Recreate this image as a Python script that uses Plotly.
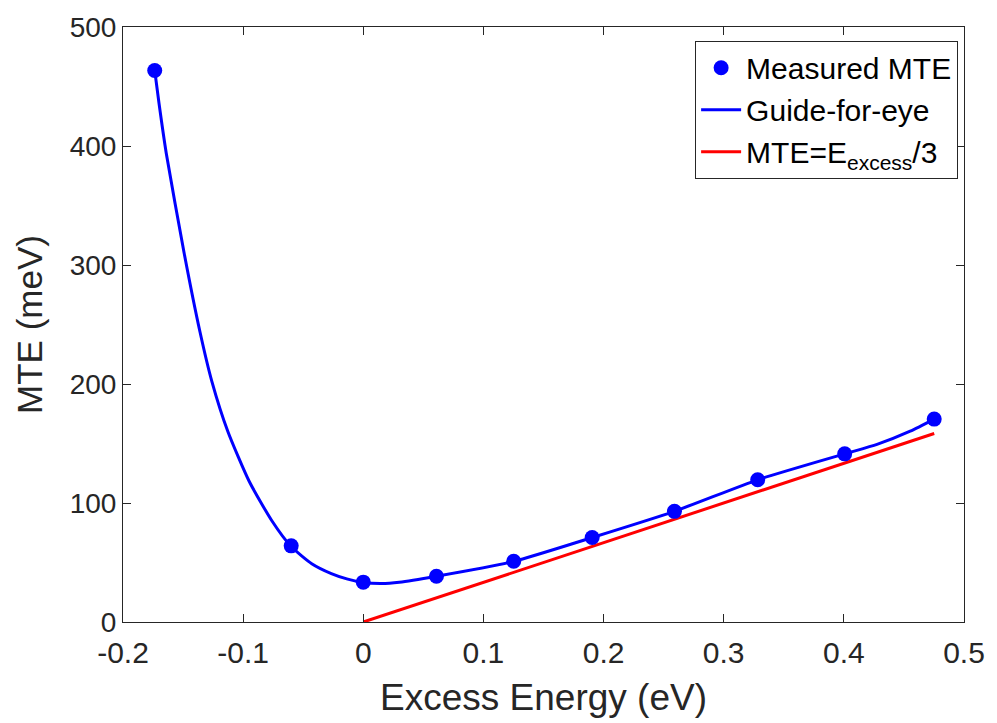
import plotly.graph_objects as go

# Measured MTE points
meas_x = [-0.1736, -0.0600, 0.0000, 0.0609, 0.1252, 0.1905, 0.2590, 0.3283, 0.4007, 0.4752]
meas_y = [463.5, 64.0, 33.5, 38.5, 51.0, 71.0, 93.0, 119.5, 141.3, 170.5]

# Guide-for-eye curve
guide_x = [-0.1736, -0.1700, -0.1640, -0.1492, -0.1359, -0.1260, -0.1128, -0.0951, -0.0761,
           -0.0600, -0.0429, -0.0266, -0.0130, 0.0000, 0.0150, 0.0300, 0.0609, 0.1252, 0.1905,
           0.2590, 0.3283, 0.4007, 0.4276, 0.4552, 0.4752]
guide_y = [463.5, 435.7, 394.0, 310.5, 243.7, 202.0, 160.3, 118.5, 85.1,
           63.4, 49.0, 40.7, 36.0, 33.2, 32.3, 33.4, 38.5, 51.0, 71.0,
           93.0, 119.5, 141.3, 149.2, 160.3, 170.5]

# MTE = E_excess/3 line (endpoints, meV)
theory_x = [0.0, 0.4752]
theory_y = [0.0, 158.4]

x_ticks = [-0.2, -0.1, 0, 0.1, 0.2, 0.3, 0.4, 0.5]
x_ticklabels = ["-0.2", "-0.1", "0", "0.1", "0.2", "0.3", "0.4", "0.5"]
y_ticks = [0, 100, 200, 300, 400, 500]

FONT = "Liberation Sans, Arial, sans-serif"
AXC = "#262626"

fig = go.Figure()
fig.add_trace(go.Scatter(
    x=guide_x, y=guide_y, mode="lines", name="Guide-for-eye", legendrank=2,
    line=dict(color="#0000ff", width=3, shape="spline", smoothing=0.6),
))
fig.add_trace(go.Scatter(
    x=theory_x, y=theory_y, mode="lines", name="MTE=E<sub>excess</sub>/3", legendrank=3,
    line=dict(color="#ff0000", width=3),
))
fig.add_trace(go.Scatter(
    x=meas_x, y=meas_y, mode="markers", name="Measured MTE", legendrank=1,
    marker=dict(color="#0000ff", size=15, line=dict(width=0)),
))

axis_common = dict(
    showgrid=False, zeroline=False, showline=True, linecolor=AXC, linewidth=1,
    mirror="ticks", ticks="inside", ticklen=8, tickcolor=AXC, tickwidth=1,
)

fig.update_layout(
    width=997, height=723,
    margin=dict(l=123, r=26, t=23, b=101),
    paper_bgcolor="white", plot_bgcolor="white",
    font=dict(family=FONT, color=AXC),
    showlegend=True,
    legend=dict(
        x=0.993, y=0.977, xanchor="right", yanchor="top",
        bgcolor="white", bordercolor=AXC, borderwidth=1,
        font=dict(family=FONT, size=30, color="#000000"),
        traceorder="normal", tracegroupgap=0, itemwidth=40,
    ),
    xaxis=dict(range=[-0.2, 0.5], tickvals=x_ticks, ticktext=x_ticklabels,
               tickfont=dict(family=FONT, size=30, color=AXC), ticklabelstandoff=4,
               title=dict(text="Excess Energy (eV)", font=dict(family=FONT, size=37, color=AXC), standoff=16),
               **axis_common),
    yaxis=dict(range=[0, 500], tickvals=y_ticks,
               tickfont=dict(family=FONT, size=28, color=AXC),
               title=dict(text="MTE (meV)", font=dict(family=FONT, size=35, color=AXC), standoff=16),
               **axis_common),
)

fig.write_html("out.html")
